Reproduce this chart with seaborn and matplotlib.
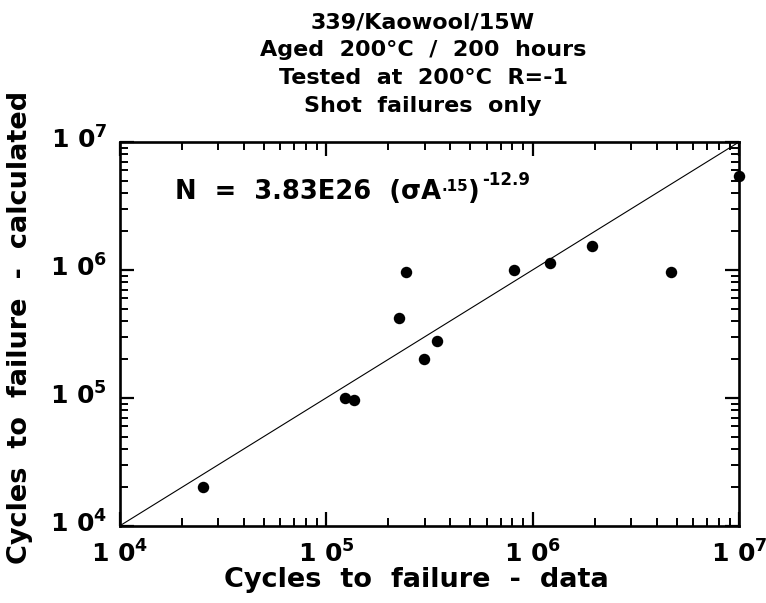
import matplotlib
matplotlib.use("Agg")
import matplotlib.pyplot as plt
import matplotlib.ticker as mticker
import matplotlib.transforms as mtransforms
import seaborn as sns
import pandas as pd
import numpy as np

# ---- data ----
data_cycles = [2.55e4, 1.24e5, 1.37e5, 2.25e5, 2.43e5, 2.97e5, 3.45e5, 8.1e5, 1.21e6, 1.95e6, 4.66e6, 1.0e7]
calc_cycles = [2.0e4, 1.0e5, 9.6e4, 4.25e5, 9.6e5, 2.03e5, 2.77e5, 1.0e6, 1.13e6, 1.55e6, 9.6e5, 5.4e6]
axis_range = [1e4, 1e7]
major_ticks = [1e4, 1e5, 1e6, 1e7]
title_lines = ["339/Kaowool/15W", "Aged  200°C  /  200  hours", "Tested  at  200°C  R=-1", "Shot  failures  only"]
x_label = "Cycles  to  failure  -  data"
y_label = "Cycles  to  failure  -  calculated"
eq_main = "N  =  3.83E26  (σA"
eq_exp1 = ".15"
eq_close = ")"
eq_exp2 = "-12.9"

sns.set_theme(style="ticks")
plt.rcParams["font.family"] = ["DejaVu Sans"]
plt.rcParams["mathtext.fontset"] = "dejavusans"
plt.rcParams["text.color"] = "black"

df = pd.DataFrame({"data": data_cycles, "calc": calc_cycles})

fig = plt.figure(figsize=(7.66, 6.03), dpi=100)
ax = fig.add_axes([119.5 / 766, 1 - 526 / 603, (739 - 119.5) / 766, (526 - 142) / 603])

ax.set_xscale("log")
ax.set_yscale("log")
ax.set_xlim(axis_range)
ax.set_ylim(axis_range)

sns.lineplot(x=axis_range, y=axis_range, ax=ax, color="black", linewidth=0.8)
sns.scatterplot(data=df, x="data", y="calc", ax=ax, color="black", s=68,
                edgecolor="black", linewidth=0, clip_on=False, zorder=5)

for sp in ax.spines.values():
    sp.set_linewidth(1.9)
    sp.set_color("black")
    sp.set_visible(True)

ax.xaxis.set_major_locator(mticker.FixedLocator(major_ticks))
ax.yaxis.set_major_locator(mticker.FixedLocator(major_ticks))
ax.xaxis.set_minor_locator(mticker.LogLocator(base=10, subs=np.arange(2, 10)))
ax.yaxis.set_minor_locator(mticker.LogLocator(base=10, subs=np.arange(2, 10)))
ax.xaxis.set_minor_formatter(mticker.NullFormatter())
ax.yaxis.set_minor_formatter(mticker.NullFormatter())

fmt = mticker.FuncFormatter(lambda v, p: "1 0$^{\\mathbf{%d}}$" % int(round(np.log10(v))))
ax.xaxis.set_major_formatter(fmt)
ax.yaxis.set_major_formatter(fmt)

ax.tick_params(which="both", direction="in", top=True, right=True, colors="black")
ax.tick_params(which="major", length=10, width=1.6)
ax.tick_params(which="minor", length=5.5, width=1.4)
ax.tick_params(axis="x", which="major", pad=10.5, labelsize=18)
ax.tick_params(axis="y", which="major", pad=9, labelsize=18)

ax.set_xlabel(x_label, fontsize=19.5, fontweight="bold", color="black")
ax.set_ylabel(y_label, fontsize=19.5, fontweight="bold", color="black")
ax.xaxis.set_label_coords(0.4786, -0.107)
ax.yaxis.set_label_coords(-0.1396, 0.516)

ax.set_title("\n".join(title_lines), fontsize=16, fontweight="bold", linespacing=1.5,
             pad=21.5, x=0.49, color="black")

base_y = 0.8516
t_main = ax.text(0.09, base_y, eq_main, transform=ax.transAxes, fontsize=18.5,
                 fontweight="bold", va="baseline", ha="left", color="black")
t_e1 = ax.annotate(eq_exp1, xy=(1, base_y), xycoords=(t_main, "axes fraction"),
                   xytext=(0, 5.8), textcoords="offset points", fontsize=11,
                   fontweight="bold", va="baseline", ha="left", color="black")
t_cl = ax.annotate(eq_close, xy=(1, base_y), xycoords=(t_e1, "axes fraction"),
                   xytext=(0, 0), textcoords="offset points", fontsize=18.5,
                   fontweight="bold", va="baseline", ha="left", color="black")
t_e2 = ax.annotate(eq_exp2, xy=(1, base_y), xycoords=(t_cl, "axes fraction"),
                   xytext=(1.5, 10), textcoords="offset points", fontsize=12,
                   fontweight="bold", va="baseline", ha="left", color="black")

ax.grid(False)

fig.canvas.draw()
for lbl in ax.get_xticklabels() + ax.get_yticklabels():
    lbl.set_fontweight("bold")
    lbl.set_color("black")
shift_up = mtransforms.ScaledTranslation(0, 4.5 / 100, fig.dpi_scale_trans)
for lbl in ax.get_yticklabels():
    lbl.set_transform(lbl.get_transform() + shift_up)

fig.savefig("out.png", dpi=100)
